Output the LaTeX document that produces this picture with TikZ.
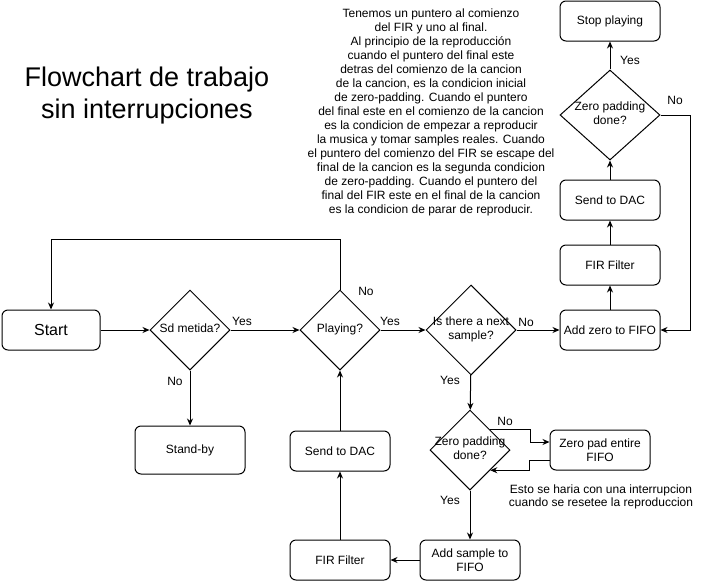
\documentclass[tikz,border=0pt]{standalone}
\usepackage{fontspec}
\setmainfont{Liberation Sans}
\usetikzlibrary{shapes.geometric,arrows.meta}
\newcommand{\dtext}[1]{\makebox[0pt]{\begin{tabular}{@{}c@{}}#1\end{tabular}}}

\begin{document}
\begin{tikzpicture}[x=1pt,y=-1pt,line width=1pt,
    font=\fontsize{12}{14}\selectfont,
    >={Stealth[length=7pt,width=6pt]}]
  \useasboundingbox (0,0) rectangle (701,581);
  \begin{scope}[every node/.style={draw,rounded corners=6pt,minimum width=100pt,minimum height=40pt,align=center,inner sep=2pt}]
    \node[minimum width=98pt,font=\fontsize{16}{18}\selectfont] (start) at (51,330) {Start};
    \node[minimum width=110pt,minimum height=48pt] (standby) at (190,450) {Stand-by};
    \node (dacl) at (340,451) {Send to DAC};
    \node (firl) at (340,560) {FIR Filter};
    \node (addsample) at (470,560) {Add sample to\\FIFO};
    \node (zeropad) at (600,450) {Zero pad entire\\FIFO};
    \node (addzero) at (610,330) {Add zero to FIFO};
    \node (firr) at (610,265) {FIR Filter};
    \node (dacr) at (610,200) {Send to DAC};
    \node (stop) at (610,21) {Stop playing};
  \end{scope}
  \begin{scope}[every node/.style={draw,diamond,inner sep=0pt,minimum width=80pt,minimum height=80pt}]
    \node (sd) at (190,330) {\dtext{Sd metida?}};
    \node (playing) at (340,330) {\dtext{Playing?}};
    \node[minimum width=90pt,minimum height=90pt] (next) at (471,330) {\dtext{Is there a next\\sample?}};
    \node (zpb) at (470,450) {\dtext{Zero padding\\done?}};
    \node[minimum width=100pt,minimum height=90pt] (zpt) at (610,115) {\dtext{Zero padding\\done?}};
  \end{scope}
  % textos sueltos
  \node[align=center,font=\fontsize{27}{32}\selectfont] (title) at (147,96) {Flowchart de trabajo\\sin interrupciones};
  \node[align=center,font=\fontsize{12}{14}\selectfont] (note) at (431,112) {Tenemos un puntero al comienzo\\
    del FIR y uno al final.\\
    Al principio de la reproducción\\
    cuando el puntero del final este\\
    detras del comienzo de la cancion\\
    de la cancion, es la condicion inicial\\
    de zero-padding. Cuando el puntero\\
    del final este en el comienzo de la cancion\\
    es la condicion de empezar a reproducir\\
    la musica y tomar samples reales. Cuando\\
    el puntero del comienzo del FIR se escape del\\
    final de la cancion es la segunda condicion\\
    de zero-padding. Cuando el puntero del\\
    final del FIR este en el final de la cancion\\
    es la condicion de parar de reproducir.};
  \node[align=center,font=\fontsize{12}{13}\selectfont] (reset) at (601,497) {Esto se haria con una interrupcion\\cuando se resetee la reproduccion};
  \begin{scope}[every node/.style={inner sep=0pt}]
    \node (yes1) at (242,321) {Yes};
    \node (no1) at (175,381) {No};
    \node (no2) at (366,291) {No};
    \node (yes2) at (390,321) {Yes};
    \node (no3) at (526,322) {No};
    \node (yes3) at (450,380) {Yes};
    \node (no4) at (505,421) {No};
    \node (yes4) at (450,500) {Yes};
    \node (yes5) at (630,60) {Yes};
    \node (no5) at (675,100) {No};
  \end{scope}
  \draw[->] (start) -- (sd);
  \draw[->] (sd) -- (playing);
  \draw[->] (sd) -- (standby);
  \draw[->] (playing.north) -- ++(0,-50) -| (start.north);
  \draw[->] (playing) -- (next);
  \draw[->] (next) -- (addzero);
  \draw[->] (next) -- (zpb);
  \draw[->] (zpb.north east) -- ++(40,0) |- ([yshift=8pt]zeropad.west);
  \draw[->] ([yshift=-10pt]zeropad.west) -- ++(-20,0) |- (zpb.south east);
  \draw[->] (zpb) -- (addsample);
  \draw[->] (addsample) -- (firl);
  \draw[->] (firl) -- (dacl);
  \draw[->] (dacl) -- (playing);
  \draw[->] (addzero) -- (firr);
  \draw[->] (firr) -- (dacr);
  \draw[->] (dacr) -- (zpt);
  \draw[->] (zpt) -- (stop);
  \draw[->] (zpt.east) -- ++(30,0) |- (addzero.east);
\end{tikzpicture}
\end{document}
